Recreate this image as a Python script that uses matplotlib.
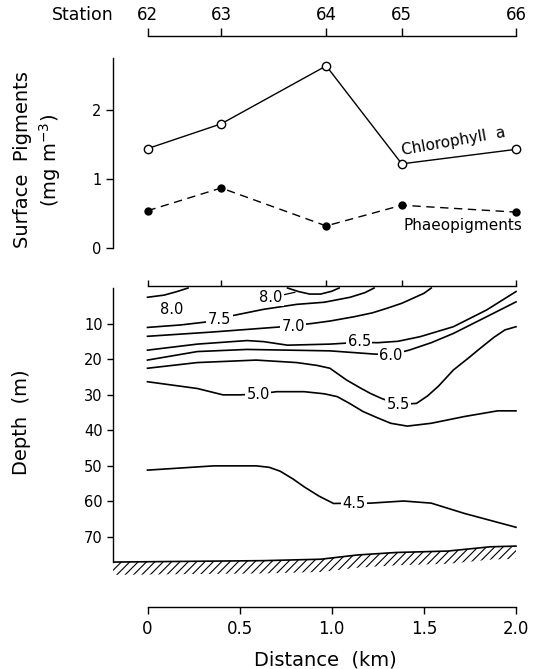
import matplotlib
matplotlib.use("Agg")
from matplotlib import pyplot as plt

plt.rcParams['font.family'] = ['DejaVu Sans']
plt.rcParams['hatch.linewidth'] = 0.8

# --- stasiun & pigmen permukaan ---
stations = ['62', '63', '64', '65', '66']
station_km = [0.0, 0.40, 0.97, 1.38, 2.0]
chlorophyll = [1.44, 1.80, 2.64, 1.22, 1.43]
phaeo = [0.54, 0.87, 0.32, 0.62, 0.52]
pig_ticks = [0, 1, 2]

# --- isoline suhu (jarak km, kedalaman m) ---
iso80a_km = [0.0, 0.09, 0.16, 0.22]
iso80a_d = [2.6, 2.0, 1.0, 0.0]
iso80b_km = [0.76, 0.82, 0.88, 0.94, 1.0, 1.04]
iso80b_d = [0.0, 1.0, 1.7, 1.7, 0.9, 0.0]
iso75_km = [0.0, 0.18, 0.33, 0.45, 0.63, 0.81, 0.96, 1.10, 1.18, 1.23]
iso75_d = [11.1, 10.4, 9.5, 7.9, 6.0, 4.6, 4.0, 2.6, 1.3, 0.0]
iso70_km = [0.0, 0.35, 0.71, 0.89, 0.99, 1.12, 1.22, 1.30, 1.38, 1.44, 1.50, 1.54]
iso70_d = [13.6, 12.4, 11.0, 10.0, 9.3, 8.1, 7.0, 5.7, 4.3, 2.9, 1.5, 0.0]
iso65_km = [0.0, 0.27, 0.54, 0.63, 0.76, 0.99, 1.15, 1.25, 1.36, 1.48, 1.66, 1.84, 2.0]
iso65_d = [17.5, 15.8, 14.8, 15.1, 16.1, 15.8, 15.3, 15.4, 15.0, 13.7, 10.9, 6.2, 1.0]
iso60_km = [0.0, 0.27, 0.54, 0.99, 1.23, 1.32, 1.42, 1.54, 1.66, 1.84, 2.0]
iso60_d = [20.3, 17.9, 17.3, 17.7, 18.6, 18.8, 17.5, 15.4, 12.8, 8.1, 3.9]
iso55_km = [0.0, 0.27, 0.59, 0.81, 0.92, 0.99, 1.08, 1.15, 1.21, 1.27, 1.36, 1.46,
            1.52, 1.58, 1.66, 1.74, 1.81, 1.88, 1.94, 2.0]
iso55_d = [22.6, 21.0, 20.3, 21.0, 21.8, 22.6, 25.9, 28.0, 29.7, 31.1, 32.8, 32.5,
           30.4, 27.6, 23.1, 19.8, 16.8, 13.9, 11.8, 10.9]
iso50_km = [0.0, 0.27, 0.41, 0.50, 0.60, 0.70, 0.85, 0.96, 1.03, 1.10, 1.17, 1.25,
            1.32, 1.41, 1.54, 1.72, 1.90, 2.0]
iso50_d = [26.4, 28.3, 30.1, 30.1, 29.9, 29.2, 29.2, 29.8, 30.6, 32.6, 34.8, 36.6,
           38.1, 38.9, 38.1, 36.2, 34.6, 34.6]
iso45_km = [0.0, 0.36, 0.59, 0.66, 0.72, 0.79, 0.85, 0.93, 1.01, 1.12, 1.21, 1.39,
            1.54, 1.72, 2.0]
iso45_d = [51.3, 50.1, 50.1, 50.5, 51.6, 53.8, 56.0, 58.6, 60.7, 60.6, 60.6, 60.0,
           60.6, 63.5, 67.4]

# label isoline: teks, km, kedalaman
iso_labels = ['8.0', '8.0', '7.5', '7.0', '6.5', '6.0', '5.5', '5.0', '4.5']
iso_label_km = [0.13, 0.67, 0.39, 0.79, 1.15, 1.32, 1.36, 0.60, 1.12]
iso_label_d = [6.0, 2.6, 8.8, 10.9, 15.2, 18.9, 32.8, 29.9, 60.6]

# dasar laut
bottom_km = [-0.187, 0.63, 0.94, 1.14, 1.35, 1.63, 1.86, 2.0]
bottom_d = [77.2, 76.8, 76.4, 75.2, 74.5, 74.1, 72.9, 72.7]

depth_ticks = [10, 20, 30, 40, 50, 60, 70]
dist_ticks = [0, 0.5, 1.0, 1.5, 2.0]
dist_labels = ['0', '0.5', '1.0', '1.5', '2.0']

# --- tata letak (piksel) ---
W, H = 534, 669
X0, PX_KM = 147.5, 184.25


def rect(k0, k1, top, bot):
    return [(X0 + PX_KM * k0) / W, 1 - bot / H,
            PX_KM * (k1 - k0) / W, (bot - top) / H]


def bare(ax):
    for s in ax.spines.values():
        s.set_visible(False)
    ax.set_facecolor('none')


fig = plt.figure(figsize=(W / 100, H / 100), dpi=100)

# --- sumbu stasiun ---
ax_st = fig.add_axes(rect(0, 2.0, 35.9, 36.0))
bare(ax_st)
ax_st.spines['top'].set_visible(True)
ax_st.spines['top'].set_linewidth(1.0)
ax_st.set_xlim(0, 2.0)
ax_st.set_yticks([])
ax_st.xaxis.tick_top()
ax_st.set_xticks(station_km)
ax_st.set_xticklabels(stations)
ax_st.tick_params(axis='x', direction='out', length=5.5, width=1.0, pad=3, labelsize=12)
fig.text(83 / W, 1 - 15.5 / H, 'Station', fontsize=12.5, ha='center', va='center')

# --- pigmen permukaan ---
ax_p = fig.add_axes(rect(-0.187, 2.06, 57.6, 248))
bare(ax_p)
ax_p.spines['left'].set_visible(True)
ax_p.spines['left'].set_linewidth(1.0)
ax_p.set_xlim(-0.187, 2.06)
ax_p.set_ylim(0, 2.76)
ax_p.set_xticks([])
ax_p.set_yticks(pig_ticks)
ax_p.tick_params(axis='y', direction='out', length=5, width=1.0, pad=3.5, labelsize=10.5)

ax_p.plot(station_km, chlorophyll, '-', color='black', lw=1.0,
          marker='o', ms=6, mfc='white', mec='black', mew=1.0, clip_on=False)
ax_p.plot(station_km, phaeo, color='black', lw=1.0, ls=(0, (6, 4)),
          marker='o', ms=5, mfc='black', mec='black', clip_on=False)
ax_p.text(1.66, 1.54, 'Chlorophyll  a', fontsize=11, rotation=10, ha='center', va='center')
ax_p.text(1.71, 0.33, 'Phaeopigments', fontsize=11, ha='center', va='center')

fig.text(23 / W, 1 - 160 / H, 'Surface  Pigments', fontsize=14, rotation=90,
         ha='center', va='center')
fig.text(50 / W, 1 - 160 / H, '(mg m$^{-3}$)', fontsize=14, rotation=90,
         ha='center', va='center')

# --- penampang suhu ---
ax_c = fig.add_axes(rect(-0.187, 2.06, 285.9, 579.1))
bare(ax_c)
ax_c.set_xlim(-0.187, 2.06)
ax_c.set_ylim(82, -0.6)
ax_c.spines['left'].set_visible(True)
ax_c.spines['left'].set_bounds(77.2, 0)
ax_c.spines['left'].set_linewidth(1.0)
ax_c.spines['top'].set_visible(True)
ax_c.spines['top'].set_bounds(0, 2.0)
ax_c.spines['top'].set_linewidth(1.0)
ax_c.xaxis.tick_top()
ax_c.set_xticks(station_km)
ax_c.set_xticklabels([])
ax_c.tick_params(axis='x', direction='out', length=4.5, width=1.0)
ax_c.set_yticks(depth_ticks)
ax_c.tick_params(axis='y', direction='out', length=4, width=1.0, pad=3.5, labelsize=10.5)

for xs, ds in [(iso80a_km, iso80a_d), (iso80b_km, iso80b_d), (iso75_km, iso75_d),
               (iso70_km, iso70_d), (iso65_km, iso65_d), (iso60_km, iso60_d),
               (iso55_km, iso55_d), (iso50_km, iso50_d), (iso45_km, iso45_d)]:
    ax_c.plot(xs, ds, color='black', lw=1.2, clip_on=False, solid_joinstyle='round')

for i, lab in enumerate(iso_labels):
    box = None if i == 0 else dict(facecolor='white', edgecolor='none', pad=1.0)
    ax_c.text(iso_label_km[i], iso_label_d[i], lab, fontsize=10.5,
              ha='center', va='center', bbox=box, zorder=3)
# garis penunjuk label 8.0 tengah
ax_c.plot([0.73, 0.80], [2.0, 1.2], color='black', lw=0.9)

# dasar laut berarsir
ax_c.fill_between(bottom_km, bottom_d, [d + 3.6 for d in bottom_d],
                  facecolor='none', edgecolor='black', hatch='////', linewidth=0)
ax_c.plot(bottom_km, bottom_d, color='black', lw=1.2)

fig.text(22 / W, 1 - 421.7 / H, 'Depth  (m)', fontsize=14, rotation=90,
         ha='center', va='center')

# --- sumbu jarak ---
ax_d = fig.add_axes(rect(0, 2.0, 606.4, 606.5))
bare(ax_d)
ax_d.spines['bottom'].set_visible(True)
ax_d.spines['bottom'].set_linewidth(1.0)
ax_d.set_xlim(0, 2.0)
ax_d.set_yticks([])
ax_d.set_xticks(dist_ticks)
ax_d.set_xticklabels(dist_labels)
ax_d.tick_params(axis='x', direction='out', length=5, width=1.0, pad=5, labelsize=12)
fig.text(325 / W, 1 - 660 / H, 'Distance  (km)', fontsize=14, ha='center', va='center')

plt.savefig('out.png', dpi=100)
